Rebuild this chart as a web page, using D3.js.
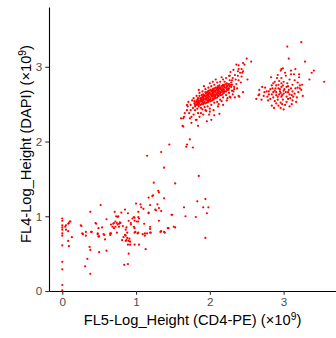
<!DOCTYPE html>
<html>
<head>
<meta charset="utf-8">
<script src="https://cdn.jsdelivr.net/npm/d3@7"></script>
<style>
	body { margin: 0; background: #fff; }
	text { font-family: "Liberation Sans", Arial, sans-serif; }
</style>
</head>
<body>
<div id="scatter"></div>
<script>
// values in units of 10^9 : [FL5 (CD4-PE), FL4 (DAPI)]
const xTicks = [0, 1, 2, 3]
const yTicks = [0, 1, 2, 3]
const xTitle = 'FL5-Log_Height (CD4-PE) (\u00d710'
const yTitle = 'FL4-Log_Height (DAPI) (\u00d710'

const lowCloud = [
	[0,0.97],[0,0.94],[0,0.88],[0,0.85],[0,0.82],[0,0.77],[0,0.74],[0,0.61],[0,0.39],[0,0.29],[0,0.08],[0,0.01],
	[0.04,0.86],[0.05,0.88],[0.08,0.90],[0.10,0.93],[0.05,0.82],[0.08,0.80],[0.13,0.72],[0.08,0.67],[0.09,0.60],
	[0.11,0.93],[0.09,0.91],[0.25,0.88],[0.27,0.77],
	[0.26,0.87],[0.28,0.76],[0.32,0.79],[0.32,0.74],[0.38,1.06],[0.39,0.79],[0.37,0.59],[0.38,0.55],[0.34,0.43],[0.31,0.33],[0.38,0.23],
	[0.40,0.79],[0.45,0.91],[0.48,0.77],[0.50,0.73],[0.56,0.76],
	[0.46,0.90],[0.49,0.84],[0.48,0.76],[0.49,0.73],[0.50,0.52],[0.52,1.15],[0.54,0.85],[0.57,0.75],[0.58,0.69],[0.60,0.96],[0.60,0.54],
	[0.65,0.75],[0.66,0.77],[0.68,0.86],[0.70,0.91],[0.71,1.06],[0.69,0.90],[0.70,0.84],[0.72,0.86],[0.72,0.93],[0.74,0.91],
	[0.75,0.99],[0.74,0.78],[0.77,0.90],[0.77,0.86],[0.78,0.92],[0.80,1.05],[0.81,0.68],[0.82,0.87],[0.83,0.72],[0.85,0.75],
	[0.85,1.09],[0.86,0.82],[0.87,0.85],[0.86,0.67],[0.88,0.78],[0.88,0.71],[0.89,1.04],[0.89,0.62],[0.90,0.94],[0.90,0.67],
	[0.90,0.50],[0.92,0.66],[0.92,0.62],[0.89,0.36],[0.84,0.35],[0.93,0.89],[0.95,0.97],[0.98,0.98],[0.98,0.94],[0.97,0.86],
	[0.98,0.84],[0.98,0.78],[0.98,0.62],[1.00,1.17],[1.01,0.93],[1.02,0.77],[1.03,1.06],[1.04,0.97],[1.04,0.62],[1.06,1.16],
	[1.07,1.12],[1.09,0.76],[1.10,1.10],[1.11,0.90],[1.12,0.74],[1.13,0.56],[1.17,1.05],[1.19,1.15],[1.19,0.86],[1.19,0.83],
	[1.19,0.78],[1.23,1.28],[1.26,1.09],[1.29,1.16],[1.31,0.94],[1.34,1.07],[1.34,0.80],[1.39,0.78],[1.44,0.84],[1.48,1.02],
	[1.20,0.78],[1.15,0.77],[1.33,0.79],[1.38,0.79],[1.51,0.86],[1.27,1.08],[1.31,1.11],[1.17,1.04],[1.03,0.99],[0.97,0.99],
	[1.03,0.93],[0.93,0.91],[0.99,0.79],[1.03,0.78],[1.12,0.77],[0.91,0.70],[0.87,0.68],[0.86,0.74],[0.79,0.91],[0.75,0.89],
	[0.66,0.89],[0.73,1.00],[0.76,1.00],[0.65,0.77]
]

const bridge = [
	[1.64,2.20],[1.75,2.25],[1.73,2.03],[1.45,1.96],[1.69,1.96],[1.68,1.93],[1.77,1.92],[1.34,1.86],[1.15,1.81],[1.38,1.65],
	[1.85,1.54],[1.24,1.45],[1.53,1.44],[1.30,1.34],[1.31,1.32],[1.17,1.25],[1.22,1.27],[1.38,1.24],[1.94,1.23],[1.83,1.20],
	[1.65,1.12],[1.91,1.12],[1.98,1.12],[1.96,1.04],[1.49,1.02],[1.67,1.00],[1.81,0.99],[1.43,0.84],[1.53,0.85],[1.94,0.71],
	[1.61,2.31],[1.65,2.33]
]

const core = [
	[1.80,2.49],[1.81,2.52],[1.79,2.54],
	[1.82,2.49],[1.83,2.51],[1.82,2.54],[1.83,2.56],
	[1.84,2.49],[1.85,2.51],[1.84,2.53],[1.85,2.55],[1.84,2.58],
	[1.87,2.49],[1.86,2.52],[1.87,2.54],[1.88,2.56],[1.87,2.58],[1.86,2.61],
	[1.89,2.50],[1.90,2.52],[1.89,2.54],[1.90,2.56],[1.89,2.58],[1.90,2.60],[1.89,2.62],
	[1.91,2.50],[1.92,2.52],[1.91,2.55],[1.92,2.57],[1.91,2.59],[1.92,2.61],[1.91,2.63],
	[1.94,2.51],[1.93,2.53],[1.94,2.56],[1.95,2.58],[1.94,2.60],[1.93,2.62],[1.95,2.64],[1.94,2.66],
	[1.96,2.52],[1.97,2.54],[1.96,2.56],[1.97,2.59],[1.96,2.61],[1.97,2.63],[1.96,2.65],[1.97,2.67],
	[1.98,2.53],[1.99,2.55],[1.98,2.57],[1.99,2.60],[1.98,2.62],[1.99,2.64],[1.98,2.66],[1.99,2.68],
	[2.01,2.54],[2.00,2.56],[2.01,2.58],[2.02,2.61],[2.01,2.63],[2.00,2.65],[2.02,2.67],[2.01,2.69],
	[2.03,2.55],[2.04,2.57],[2.03,2.60],[2.04,2.62],[2.03,2.64],[2.04,2.66],[2.03,2.68],[2.04,2.70],
	[2.05,2.56],[2.06,2.58],[2.05,2.61],[2.06,2.63],[2.05,2.65],[2.06,2.67],[2.05,2.69],[2.06,2.71],
	[2.08,2.58],[2.07,2.60],[2.08,2.62],[2.09,2.64],[2.08,2.66],[2.07,2.68],[2.09,2.70],[2.08,2.72],
	[2.10,2.59],[2.11,2.61],[2.10,2.63],[2.11,2.66],[2.10,2.68],[2.11,2.70],[2.10,2.72],[2.11,2.74],
	[2.12,2.61],[2.13,2.63],[2.12,2.65],[2.13,2.67],[2.12,2.69],[2.13,2.71],[2.12,2.73],[2.13,2.75],
	[2.15,2.62],[2.14,2.64],[2.15,2.66],[2.16,2.68],[2.15,2.70],[2.14,2.72],[2.16,2.74],
	[2.17,2.63],[2.18,2.66],[2.17,2.68],[2.18,2.70],[2.17,2.72],[2.18,2.75],
	[2.19,2.65],[2.20,2.67],[2.19,2.69],[2.20,2.72],[2.19,2.74],[2.20,2.76],
	[2.22,2.67],[2.23,2.70],[2.22,2.72],[2.23,2.74],[2.22,2.77],
	[2.24,2.69],[2.25,2.71],[2.24,2.74],[2.25,2.76],
	[2.26,2.71],[2.27,2.74],[2.26,2.77],
	[2.29,2.73],[2.28,2.76]
]

const coreHalo = [
	[1.88,2.45],[1.93,2.46],[1.97,2.47],[2.02,2.49],[2.06,2.52],[2.10,2.53],[2.14,2.56],[2.18,2.59],[2.22,2.62],[2.26,2.65],
	[2.30,2.68],[2.33,2.70],[2.27,2.60],[2.12,2.50],[2.00,2.44],[1.95,2.41],[1.90,2.43],[2.16,2.54],[2.24,2.58],[2.31,2.63],
	[1.78,2.58],[1.82,2.61],[1.86,2.65],[1.90,2.67],[1.94,2.70],[1.98,2.72],[2.02,2.74],[2.06,2.76],[2.10,2.79],[2.14,2.80],
	[2.18,2.83],[2.22,2.85],[2.26,2.88],[1.85,2.69],[1.92,2.74],[2.00,2.78],[2.08,2.83],[1.76,2.55],[2.16,2.86],[2.04,2.80],
	[2.32,2.96],[2.36,3.03],[2.39,2.97],[2.34,2.89],[2.27,2.88],[2.30,2.82],[2.39,2.82],[2.36,2.77],[2.30,2.76],[2.23,2.78],
	[2.18,2.76],[2.25,2.69],[2.32,2.67],[2.39,2.61],[2.34,2.59],[2.28,2.59],[2.23,2.55],[2.29,2.79],[2.33,2.73],[2.37,2.71],
	[2.31,2.85],[2.35,2.83],[2.42,2.79],[2.28,2.93],[2.41,2.92],[2.43,2.87],[2.38,2.88],[2.27,2.82],[2.20,2.80],
	[1.73,2.31],[1.64,2.31],[1.63,2.21],[1.82,2.29],[1.78,2.36],[1.80,2.42],[1.84,2.38],[1.91,2.36],[1.94,2.42],[2.00,2.40],
	[2.05,2.42],[2.11,2.47],[2.18,2.49],[1.96,2.27],[2.02,2.29],[2.13,2.37],[1.69,2.49],[1.71,2.53],[1.69,2.42],[1.74,2.42],
	[1.80,2.47],[1.70,2.47],[1.86,2.33],[1.88,2.38],[1.77,2.45],[1.83,2.44],[1.74,2.49],[1.79,2.51],[1.66,2.38],[1.72,2.38],
	[1.85,2.47],[1.75,2.33],[1.84,2.21],[1.99,2.36],[2.06,2.35],[1.81,2.29],
	[2.50,3.11],[2.56,3.07],[2.45,3.05],[2.47,3.03],[2.39,3.02],[2.43,2.97],[2.45,2.94],[2.38,2.94],[2.44,2.92],[2.51,2.83],
	[2.45,2.66],[2.40,2.60]
]

const rightCluster = [
	[3.24,3.33],[3.05,3.27],[3.07,3.11],[3.29,3.07],[3.55,2.80],[3.41,2.95],[3.38,2.92],[3.35,2.83],[3.16,2.97],[2.97,2.97],
	[2.99,2.98],[2.96,2.95],[3.02,2.92],[3.03,2.88],[3.10,2.90],[3.14,2.90],[3.21,2.90],[3.21,2.86],[2.83,2.86],[2.91,2.85],
	[2.97,2.85],[2.88,2.80],[2.86,2.78],[2.97,2.78],[3.00,2.80],[3.05,2.78],[3.12,2.76],[3.22,2.75],[3.22,2.71],[3.16,2.71],
	[3.10,2.71],[3.04,2.73],[2.97,2.73],[2.93,2.71],[2.89,2.71],[2.85,2.71],[2.82,2.70],[2.75,2.72],[2.71,2.73],[2.67,2.69],
	[2.67,2.63],[2.73,2.61],[2.63,2.57],[2.66,2.62],[2.80,2.63],[2.86,2.66],[2.90,2.66],[2.95,2.67],[3.00,2.68],[3.06,2.66],
	[3.12,2.67],[3.18,2.59],[3.11,2.62],[3.04,2.60],[2.97,2.60],[2.90,2.62],[2.86,2.59],[2.92,2.56],[2.99,2.56],[3.06,2.57],
	[3.12,2.55],[3.11,2.50],[2.96,2.52],[2.90,2.51],[2.84,2.48],[2.96,2.45],[3.02,2.49],[3.08,2.47],[2.93,2.48],[2.88,2.54],
	[2.82,2.57],[2.78,2.60],[2.84,2.63],[2.94,2.63],[3.00,2.64],[3.08,2.63],[3.15,2.64],[3.20,2.66],[3.19,2.79],[3.15,2.82],
	[3.08,2.83],[2.93,2.76],[2.92,2.89],[3.01,2.70],[2.99,2.75],[2.95,2.70],[3.07,2.69],[2.88,2.68],[2.80,2.67],[2.77,2.67],
	[3.24,2.69],[3.26,2.61],[3.17,2.53],[3.04,2.53],[2.98,2.50],[2.87,2.45],[3.00,2.43],[2.79,2.55],[2.70,2.56],[2.74,2.66],
	[2.96,2.65],[3.03,2.66],[2.98,2.62],[2.92,2.60],[3.09,2.58],[3.13,2.60],[2.90,2.75],[3.06,2.74],[2.94,2.81],[3.25,2.76],
	[3.19,2.72],[3.10,2.95],[2.84,2.75]
]

function init() {
	const data = [].concat(lowCloud, bridge, core, coreHalo, rightCluster)

	const width = 336, height = 338
	const margin = { top: 7, right: 0, bottom: 47, left: 49 }

	let svg = d3.select('#scatter')
	.append('svg')
	.attr('width', width)
	.attr('height', height)

	let xScale = d3.scaleLinear()
	.domain([-0.18, 3.71])
	.range([margin.left, width - margin.right])

	let yScale = d3.scaleLinear()
	.domain([0, 3.8])
	.range([height - margin.bottom, margin.top])

	svg.append('g')
	.selectAll('circle')
	.data(data)
	.join('circle')
	.attr('cx', d => xScale(d[0]))
	.attr('cy', d => yScale(d[1]))
	.attr('r', 1.1)
	.attr('fill', '#ff0000')

	svg.append('g')
	.attr('transform', `translate(0,${height - margin.bottom})`)
	.call(d3.axisBottom(xScale).tickValues(xTicks).tickFormat(d3.format('d')).tickSize(3.7).tickPadding(3).tickSizeOuter(0))

	svg.append('g')
	.attr('transform', `translate(${margin.left},0)`)
	.call(d3.axisLeft(yScale).tickValues(yTicks).tickFormat(d3.format('d')).tickSize(3.7).tickPadding(3).tickSizeOuter(0))

	svg.selectAll('.domain').attr('stroke', '#000').attr('stroke-width', 1.1)
	svg.selectAll('.tick line').attr('stroke', '#333').attr('stroke-width', 1.1)
	svg.selectAll('.tick text')
	.attr('fill', '#4d4d4d')
	.style('font-size', '11.7px')
	.style('font-family', '"Liberation Sans", Arial, sans-serif')

	let xt = svg.append('text')
	.attr('x', (margin.left + width - margin.right) / 2)
	.attr('y', 325)
	.attr('text-anchor', 'middle')
	.style('font-size', '14.7px')
	.attr('fill', '#000')
	xt.append('tspan').text(xTitle)
	xt.append('tspan').attr('dy', -5.5).style('font-size', '10.3px').text('9')
	xt.append('tspan').attr('dy', 5.5).text(')')

	let yt = svg.append('text')
	.attr('transform', 'translate(31,144) rotate(-90)')
	.attr('text-anchor', 'middle')
	.style('font-size', '14.7px')
	.attr('fill', '#000')
	yt.append('tspan').text(yTitle)
	yt.append('tspan').attr('dy', -5.5).style('font-size', '10.3px').text('9')
	yt.append('tspan').attr('dy', 5.5).text(')')
}

init()
</script>
</body>
</html>
